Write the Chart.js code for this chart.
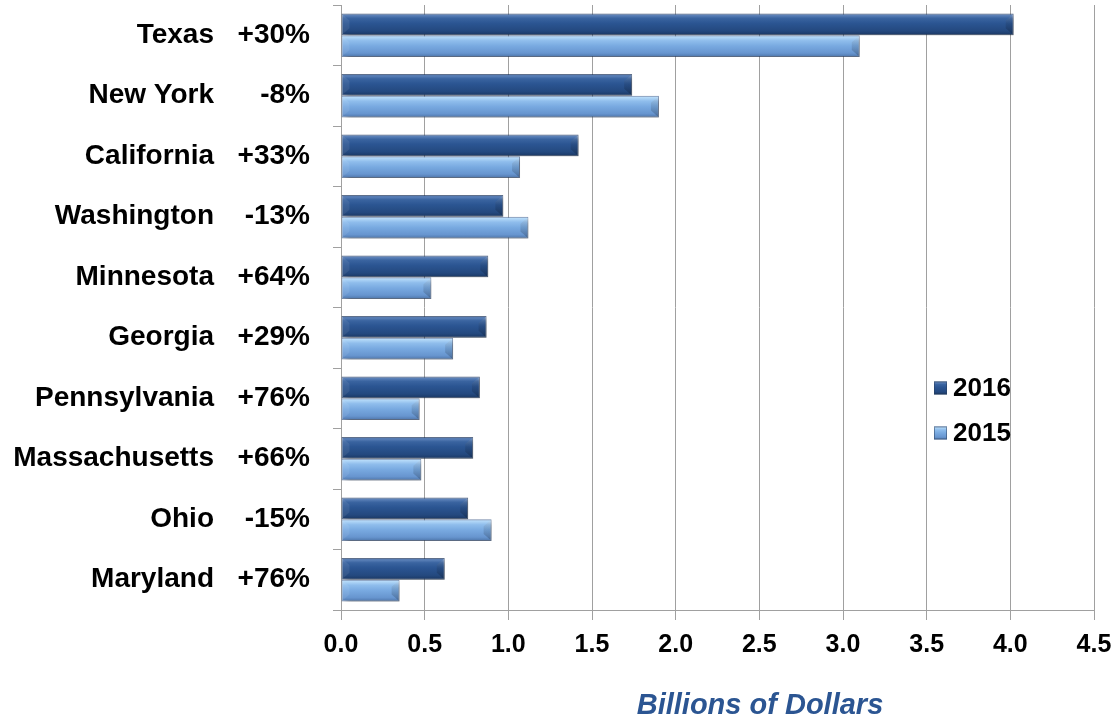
<!DOCTYPE html>
<html>
<head>
<meta charset="utf-8">
<script src="https://cdn.jsdelivr.net/npm/chart.js@4/dist/chart.umd.min.js"></script>
<style>
  html, body { margin: 0; padding: 0; background: #ffffff; }
  #wrap { width: 1116px; height: 720px; position: relative; }
</style>
</head>
<body>
<div id="wrap"><canvas id="c" width="1116" height="720"></canvas></div>
<script>
const states = ["Texas", "New York", "California", "Washington", "Minnesota", "Georgia", "Pennsylvania", "Massachusetts", "Ohio", "Maryland"];
const changeLabels = ["+30%", "-8%", "+33%", "-13%", "+64%", "+29%", "+76%", "+66%", "-15%", "+76%"];
const values2016 = [4.02, 1.74, 1.42, 0.97, 0.88, 0.87, 0.83, 0.79, 0.76, 0.62];
const values2015 = [3.10, 1.90, 1.07, 1.12, 0.54, 0.67, 0.47, 0.48, 0.90, 0.35];
const seriesNames = ["2016", "2015"];
const xTicks = [0, 0.5, 1, 1.5, 2, 2.5, 3, 3.5, 4, 4.5];
const axisTitle = "Billions of Dollars";

const FONT = "'Liberation Sans', Arial, sans-serif";
const CAT_PCT = 0.72;

const stopsSets = [
  [[0, '#2a4d80'], [0.08, '#5d82b9'], [0.22, '#3a64a0'], [0.45, '#2b5592'], [0.8, '#24497f'], [1, '#1a3762']],
  [[0, '#5f88bd'], [0.08, '#b4d9f8'], [0.25, '#8fbdec'], [0.5, '#78a9e0'], [0.82, '#6795cf'], [1, '#4d74a8']]
];
const fallback = ['#2b5592', '#78a9e0'];

function barGradient(context, dsIndex) {
  const chart = context.chart;
  const ys = chart.scales && chart.scales.y;
  if (!ys || !chart.chartArea || !isFinite(ys.height) || ys.height <= 0) return fallback[dsIndex];
  const center = ys.getPixelForValue(context.dataIndex);
  const band = ys.height / states.length;
  const half = band * CAT_PCT / 2;
  const top = dsIndex === 0 ? center - half : center;
  const bottom = top + half;
  const g = chart.ctx.createLinearGradient(0, top, 0, bottom);
  stopsSets[dsIndex].forEach(s => g.addColorStop(s[0], s[1]));
  return g;
}

function noPad(scale) {
  scale.paddingTop = 0;
  scale.paddingBottom = 0;
  scale.paddingLeft = 0;
  scale.paddingRight = 0;
}

const shadowPlugin = {
  id: 'shadowPlugin',
  beforeDatasetsDraw(chart) {
    const ctx = chart.ctx;
    ctx.save();
    ctx.shadowColor = 'rgba(0,0,0,0.35)';
    ctx.shadowBlur = 5;
    ctx.shadowOffsetX = 3;
    ctx.shadowOffsetY = 3;
  },
  afterDatasetsDraw(chart) {
    const ctx = chart.ctx;
    ctx.restore();
    chart.data.datasets.forEach((ds, di) => {
      const meta = chart.getDatasetMeta(di);
      meta.data.forEach(bar => {
        const p = bar.getProps(['x', 'y', 'base', 'height'], true);
        const top = p.y - p.height / 2, bottom = p.y + p.height / 2, h = p.height;
        const d = Math.min(h * 0.32, (p.x - p.base) / 3);
        ctx.save();
        // right end facet
        ctx.beginPath();
        ctx.moveTo(p.x - 1, top + 1);
        ctx.lineTo(p.x - 1 - d, top + d);
        ctx.lineTo(p.x - 1 - d, bottom - d);
        ctx.lineTo(p.x - 1, bottom - 1);
        ctx.closePath();
        const g = ctx.createLinearGradient(0, top, 0, bottom);
        g.addColorStop(0, 'rgba(255,255,255,0.18)');
        g.addColorStop(0.5, 'rgba(0,0,0,0.10)');
        g.addColorStop(1, 'rgba(0,0,0,0.22)');
        ctx.fillStyle = g;
        ctx.fill();
        // left end facet
        ctx.beginPath();
        ctx.moveTo(p.base + 1, top + 1);
        ctx.lineTo(p.base + 1 + d, top + d);
        ctx.lineTo(p.base + 1 + d, bottom - d);
        ctx.lineTo(p.base + 1, bottom - 1);
        ctx.closePath();
        ctx.fillStyle = 'rgba(255,255,255,0.08)';
        ctx.fill();
        ctx.restore();
      });
    });
  }
};

const legendPlugin = {
  id: 'customLegend',
  afterDraw(chart, args, opts) {
    const ctx = chart.ctx;
    ctx.save();
    chart.data.datasets.forEach((ds, i) => {
      const cy = opts.y + i * opts.gap;
      const sx = opts.x, s = opts.size;
      const g = ctx.createLinearGradient(0, cy - s / 2, 0, cy + s / 2);
      stopsSets[i].forEach(st => g.addColorStop(st[0], st[1]));
      ctx.fillStyle = g;
      ctx.fillRect(sx, cy - s / 2, s, s);
      ctx.strokeStyle = 'rgba(40,60,90,0.5)';
      ctx.lineWidth = 1;
      ctx.strokeRect(sx + 0.5, cy - s / 2 + 0.5, s - 1, s - 1);
      ctx.fillStyle = '#000000';
      ctx.font = 'bold 26px ' + FONT;
      ctx.textAlign = 'left';
      ctx.textBaseline = 'middle';
      ctx.fillText(ds.label, sx + s + 6, cy + 1);
    });
    ctx.restore();
  }
};

const titlePlugin = {
  id: 'axisTitle',
  afterDraw(chart, args, opts) {
    const ctx = chart.ctx;
    ctx.save();
    ctx.fillStyle = opts.color;
    ctx.font = 'italic bold 29px ' + FONT;
    ctx.textAlign = 'center';
    ctx.textBaseline = 'middle';
    ctx.fillText(opts.text, opts.x, opts.y);
    ctx.restore();
  }
};

new Chart(document.getElementById('c'), {
  type: 'bar',
  data: {
    labels: states,
    datasets: [
      {
        label: seriesNames[0],
        data: values2016,
        backgroundColor: (c) => barGradient(c, 0),
        borderColor: 'rgba(30,55,95,0.7)',
        borderWidth: 1,
        borderSkipped: false,
        categoryPercentage: CAT_PCT,
        barPercentage: 1.0
      },
      {
        label: seriesNames[1],
        data: values2015,
        backgroundColor: (c) => barGradient(c, 1),
        borderColor: 'rgba(70,100,145,0.7)',
        borderWidth: 1,
        borderSkipped: false,
        categoryPercentage: CAT_PCT,
        barPercentage: 1.0
      }
    ]
  },
  options: {
    indexAxis: 'y',
    responsive: false,
    animation: false,
    events: [],
    layout: { padding: { top: 5, right: 22, bottom: 0, left: 0 } },
    plugins: {
      legend: { display: false },
      tooltip: { enabled: false },
      customLegend: { x: 934, y: 388, gap: 45, size: 13 },
      axisTitle: { text: axisTitle, color: '#2b5592', x: 760, y: 706 }
    },
    scales: {
      x: {
        type: 'linear',
        position: 'bottom',
        min: xTicks[0],
        max: xTicks[xTicks.length - 1],
        afterBuildTicks: (scale) => { scale.ticks = xTicks.map(v => ({ value: v })); },
        afterFit: (scale) => { scale.height = 110; noPad(scale); },
        grid: { color: '#a0a0a0', lineWidth: 1, tickLength: 10, drawTicks: true },
        border: { display: true, color: '#a0a0a0', width: 1 },
        ticks: {
          padding: 10,
          color: '#000000',
          font: { family: FONT, size: 25, weight: 'bold' },
          callback: (v) => Number(v).toFixed(1)
        }
      },
      y: {
        type: 'category',
        position: 'left',
        weight: 0,
        offset: true,
        afterFit: (scale) => { scale.width = 120; noPad(scale); },
        grid: { display: true, drawOnChartArea: false, offset: true, tickLength: 8, color: '#a0a0a0' },
        border: { display: true, color: '#a0a0a0', width: 1 },
        ticks: {
          padding: 23,
          color: '#000000',
          font: { family: FONT, size: 28, weight: 'bold' },
          callback: (v, i) => changeLabels[i]
        }
      },
      yn: {
        type: 'category',
        position: 'left',
        weight: 1,
        offset: true,
        labels: states,
        afterFit: (scale) => { scale.width = 221; noPad(scale); },
        grid: { display: false, drawTicks: false },
        border: { display: false },
        ticks: {
          padding: 7,
          color: '#000000',
          font: { family: FONT, size: 28, weight: 'bold' }
        }
      }
    }
  },
  plugins: [shadowPlugin, legendPlugin, titlePlugin]
});
</script>
</body>
</html>
